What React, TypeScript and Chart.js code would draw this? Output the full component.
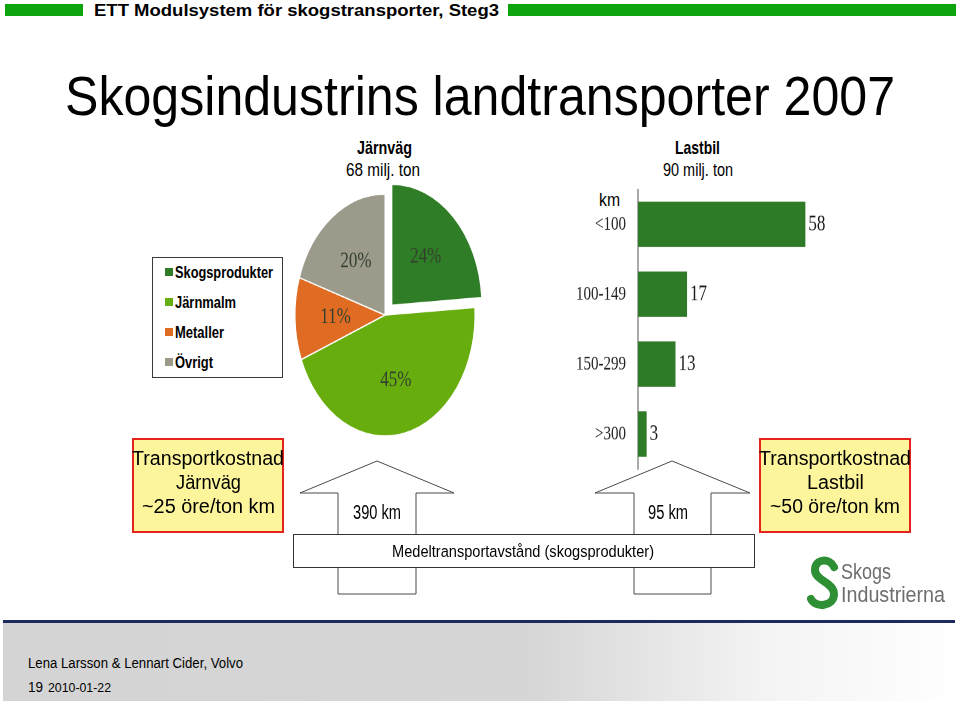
import React, { useEffect, useRef } from "react";
import { Chart, registerables } from "chart.js";

Chart.register(...registerables);

// ---------- data ----------
const pieCategories = ["Skogsprodukter", "Järnmalm", "Metaller", "Övrigt"];
const railShares = [24, 45, 11, 20];
const pieColors = ["#2f7d26", "#67ad0d", "#e06c24", "#9b9a8b"];

const distanceBands = ["<100", "100-149", "150-299", ">300"];
const truckShares = [58, 17, 13, 3];
const barColor = "#2f7a26";

const SANS = '"Liberation Sans", Arial, sans-serif';
const SERIF = '"Liberation Serif", "Times New Roman", serif';

const measureCtx: CanvasRenderingContext2D | null =
  typeof document !== "undefined" ? document.createElement("canvas").getContext("2d") : null;

type TxtProps = {
  x: number;
  b: number;
  w?: number;
  size: number;
  sy?: number;
  bold?: boolean;
  serif?: boolean;
  color?: string;
  text: string;
  center?: boolean;
};

function Txt({ x, b, w, size, sy = 1, bold = false, serif = false, color = "#000", text, center = false }: TxtProps) {
  const fam = serif ? SERIF : SANS;
  let nat = text.length * size * 0.5;
  if (measureCtx) {
    measureCtx.font = `${bold ? "bold " : ""}${size}px ${fam}`;
    nat = measureCtx.measureText(text).width;
  }
  const sx = w ? w / nat : 1;
  const width = w ?? nat;
  const left = center ? x - width / 2 : x;
  const asc = (serif ? 0.838 : 0.846) * size * sy;
  return (
    <div
      style={{
        position: "absolute",
        left,
        top: b - asc,
        whiteSpace: "pre",
        fontFamily: fam,
        fontSize: size,
        fontWeight: bold ? 700 : 400,
        lineHeight: 1,
        color,
        transform: `scale(${sx}, ${sy})`,
        transformOrigin: "0 0",
      }}
    >
      {text}
    </div>
  );
}

const pieLabelPlugin = {
  id: "pieLabels",
  afterDatasetsDraw(chart: any) {
    const ctx = chart.ctx;
    const meta = chart.getDatasetMeta(0);
    ctx.save();
    ctx.font = `17px ${SERIF}`;
    ctx.fillStyle = "#34402f";
    ctx.textAlign = "center";
    ctx.textBaseline = "middle";
    meta.data.forEach((arc: any, i: number) => {
      const p = arc.getProps(["x", "y", "startAngle", "endAngle", "outerRadius"], true);
      const off = (arc.options.offset || 0) / 4;
      const mid = (p.startAngle + p.endAngle) / 2;
      const r = p.outerRadius * 0.55 + off;
      ctx.fillText(`${railShares[i]}%`, p.x + Math.cos(mid) * r, p.y + Math.sin(mid) * r);
    });
    ctx.restore();
  },
};

const barValuePlugin = {
  id: "barValues",
  afterDatasetsDraw(chart: any) {
    const ctx = chart.ctx;
    const meta = chart.getDatasetMeta(0);
    ctx.save();
    ctx.font = `17px ${SERIF}`;
    ctx.fillStyle = "#1a1a1a";
    ctx.textAlign = "left";
    ctx.textBaseline = "middle";
    meta.data.forEach((bar: any, i: number) => {
      const p = bar.getProps(["x", "y"], true);
      ctx.fillText(String(truckShares[i]), p.x + 3, p.y);
    });
    ctx.restore();
  },
};

function PieChart() {
  const ref = useRef<HTMLCanvasElement>(null);
  useEffect(() => {
    const chart = new Chart(ref.current as HTMLCanvasElement, {
      type: "pie",
      data: {
        labels: pieCategories,
        datasets: [
          {
            data: railShares,
            backgroundColor: pieColors,
            borderColor: "#ffffff",
            borderWidth: 1,
            offset: [40, 0, 0, 0],
          } as any,
        ],
      },
      options: {
        responsive: false,
        animation: false,
        devicePixelRatio: 2,
        radius: 90,
        layout: { padding: 0 },
        plugins: { legend: { display: false }, tooltip: { enabled: false } },
      } as any,
      plugins: [pieLabelPlugin],
    });
    return () => chart.destroy();
  }, []);
  return (
    <div
      style={{
        position: "absolute",
        left: 275,
        top: 205,
        width: 220,
        height: 220,
        transform: "scaleY(1.344)",
        transformOrigin: "110px 110px",
      }}
    >
      <canvas ref={ref} width={220} height={220} />
    </div>
  );
}

function BarChart() {
  const ref = useRef<HTMLCanvasElement>(null);
  useEffect(() => {
    const chart = new Chart(ref.current as HTMLCanvasElement, {
      type: "bar",
      data: {
        labels: distanceBands,
        datasets: [
          {
            data: truckShares,
            backgroundColor: barColor,
            categoryPercentage: 1,
            barPercentage: 0.65,
          },
        ],
      },
      options: {
        indexAxis: "y",
        responsive: false,
        animation: false,
        devicePixelRatio: 2,
        layout: { padding: { top: 7, bottom: 9, left: 0, right: 0 } },
        scales: {
          x: { display: false, min: 0, max: 70 },
          y: {
            grid: { display: false, drawTicks: false },
            border: { display: true, color: "#555555", width: 1 },
            ticks: { font: { family: SERIF, size: 15 }, color: "#222222", padding: 12 },
            afterFit: (s: any) => {
              s.width = 78;
              s.paddingTop = 0;
              s.paddingBottom = 0;
            },
          },
        },
        plugins: { legend: { display: false }, tooltip: { enabled: false } },
      } as any,
      plugins: [barValuePlugin],
    });
    return () => chart.destroy();
  }, []);
  return (
    <div
      style={{
        position: "absolute",
        left: 560,
        top: 180,
        width: 280,
        height: 224,
        transform: "scaleY(1.344)",
        transformOrigin: "0 0",
      }}
    >
      <canvas ref={ref} width={280} height={224} />
    </div>
  );
}

function CostBox({ left, lines, widths }: { left: number; lines: string[]; widths: number[] }) {
  const cx = left + 76;
  return (
    <>
      <div
        style={{
          position: "absolute",
          left,
          top: 438,
          width: 152,
          height: 95,
          boxSizing: "border-box",
          background: "#fcf59c",
          border: "2px solid #e3231c",
        }}
      />
      {lines.map((t, i) => (
        <Txt key={i} x={cx} center b={465 + i * 24} w={widths[i]} size={20} sy={1.05} text={t} />
      ))}
    </>
  );
}

export default function App() {
  const legendRows = pieCategories.map((c, i) => ({ c, color: pieColors[i] }));
  const legendWidths = [98, 61, 49, 38];
  return (
    <div
      style={{
        position: "absolute",
        left: 0,
        top: 0,
        width: 960,
        height: 701,
        background: "#ffffff",
        overflow: "hidden",
      }}
    >
      {/* header */}
      <div style={{ position: "absolute", left: 5, top: 4, width: 78, height: 12, background: "#0ea40e" }} />
      <div style={{ position: "absolute", left: 508, top: 4, width: 448, height: 12, background: "#0ea40e" }} />
      <Txt x={94} b={16} w={405} size={16} sy={1.05} bold text="ETT Modulsystem för skogstransporter, Steg3" />

      {/* title */}
      <Txt x={65} b={115} w={830} size={50} sy={1.12} text="Skogsindustrins landtransporter 2007" />

      {/* chart titles */}
      <Txt x={357} b={153} w={55} size={14} sy={1.3} bold text="Järnväg" />
      <Txt x={346} b={175} w={74} size={14} sy={1.3} text="68 milj. ton" />
      <Txt x={675} b={153} w={45} size={14} sy={1.3} bold text="Lastbil" />
      <Txt x={663} b={175} w={70} size={14} sy={1.3} text="90 milj. ton" />
      <Txt x={599} b={205} w={21} size={14} sy={1.3} text="km" />

      <PieChart />
      <BarChart />

      {/* legend */}
      <div
        style={{
          position: "absolute",
          left: 152,
          top: 257,
          width: 131,
          height: 121,
          boxSizing: "border-box",
          border: "1.5px solid #3a3a3a",
          background: "#ffffff",
        }}
      />
      {legendRows.map((r, i) => (
        <React.Fragment key={r.c}>
          <div
            style={{
              position: "absolute",
              left: 165,
              top: 268 + i * 30,
              width: 8,
              height: 8,
              background: r.color,
            }}
          />
          <Txt x={175} b={278 + i * 30} w={legendWidths[i]} size={13} sy={1.25} bold text={r.c} />
        </React.Fragment>
      ))}

      {/* arrows and band */}
      <svg width={960} height={701} style={{ position: "absolute", left: 0, top: 0 }}>
        <polygon
          points="377,461 454,493 416,493 416,594 338,594 338,493 300,493"
          fill="#ffffff"
          stroke="#4a4a4a"
          strokeWidth={1}
        />
        <polygon
          points="672,461 750,493 711,493 711,594 634,594 634,493 595,493"
          fill="#ffffff"
          stroke="#4a4a4a"
          strokeWidth={1}
        />
        <rect x={293.5} y={534.5} width={461} height={33} fill="#ffffff" stroke="#333333" strokeWidth={1} />
        <path
          d="M834,567 C830,558 815,558 815,570 C815,581 834,582 834,594 C834,607 815,608 811,599"
          fill="none"
          stroke="#2f8f35"
          strokeWidth={8}
          strokeLinecap="round"
        />
      </svg>
      <Txt x={353} b={520} w={48} size={18} sy={1.16} text="390 km" />
      <Txt x={648} b={520} w={40} size={18} sy={1.16} text="95 km" />
      <Txt x={392} b={557} w={262} size={16} sy={1.07} text="Medeltransportavstånd (skogsprodukter)" />

      {/* cost boxes */}
      <CostBox left={132} lines={["Transportkostnad", "Järnväg", "~25 öre/ton km"]} widths={[152, 65, 133]} />
      <CostBox left={759} lines={["Transportkostnad", "Lastbil", "~50 öre/ton km"]} widths={[152, 57, 130]} />

      {/* logo */}
      <Txt x={841} b={580} w={50} size={22} color="#6e6e6e" text="Skogs" />
      <Txt x={841} b={603} w={104} size={22} color="#6e6e6e" text="Industrierna" />

      {/* footer */}
      <div style={{ position: "absolute", left: 3, top: 620, width: 952, height: 3, background: "#1d2a5e" }} />
      <div
        style={{
          position: "absolute",
          left: 3,
          top: 623,
          width: 957,
          height: 78,
          background: "linear-gradient(to right, #d4d4d4 0%, #d6d6d6 55%, #f4f4f4 80%, #ffffff 100%)",
        }}
      />
      <Txt x={28} b={668} w={215} size={13} sy={1.1} text="Lena Larsson & Lennart Cider, Volvo" />
      <Txt x={28} b={692} w={15} size={13} sy={1.1} text="19" />
      <Txt x={48} b={692} w={63} size={11} sy={1.1} text="2010-01-22" />
    </div>
  );
}
